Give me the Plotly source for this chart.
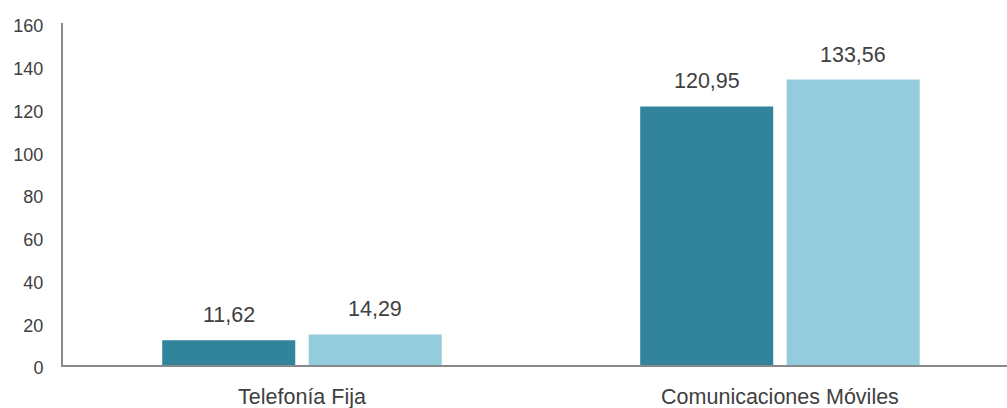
import plotly.graph_objects as go

categories = ["Telefonía Fija", "Comunicaciones Móviles"]
series_a = [11.62, 120.95]
series_b = [14.29, 133.56]
y_ticks = [0, 20, 40, 60, 80, 100, 120, 140, 160]

dark = "#31849B"
light = "#93CDDD"
txt = "#404040"
font_family = "Liberation Sans, Arial, sans-serif"
bargap = 0.387
bargroupgap = 0.092

fig = go.Figure()
fig.add_trace(go.Bar(x=categories, y=series_a, name="A", marker=dict(color=dark, line=dict(width=0))))
fig.add_trace(go.Bar(x=categories, y=series_b, name="B", marker=dict(color=light, line=dict(width=0))))

off = (1 - bargap) / 4
annotations = []
for i, (a, b) in enumerate(zip(series_a, series_b)):
    for val, dx in ((a, -off), (b, off)):
        annotations.append(dict(
            x=i + dx, y=val, xref="x", yref="y",
            text=f"{val:.2f}".replace(".", ","),
            showarrow=False, yanchor="bottom", yshift=11,
            font=dict(size=21.5, color=txt, family=font_family),
        ))

fig.update_layout(
    width=1007, height=408,
    margin=dict(l=63, r=0, t=23, b=43, autoexpand=False),
    paper_bgcolor="white", plot_bgcolor="white",
    barmode="group", bargap=bargap, bargroupgap=bargroupgap,
    showlegend=False,
    font=dict(family=font_family, size=17, color=txt),
    annotations=annotations,
    xaxis=dict(
        type="category", range=[-0.5, 1.475], automargin=False,
        showline=True, linecolor="#898989", linewidth=2,
        showgrid=False, ticks="", ticklabelstandoff=11,
        tickfont=dict(size=21.5, color=txt),
    ),
    yaxis=dict(
        range=[0, 160], tickvals=y_ticks, automargin=False,
        showline=True, linecolor="#898989", linewidth=2,
        showgrid=False, zeroline=False, ticks="", ticklabelstandoff=14,
        ticklabelshift=3,
        tickfont=dict(size=18, color=txt),
    ),
)

fig.write_html(
    "out.html",
    config={"displayModeBar": False},
    post_script="document.body.style.margin='0';document.body.style.overflow='hidden';",
)
